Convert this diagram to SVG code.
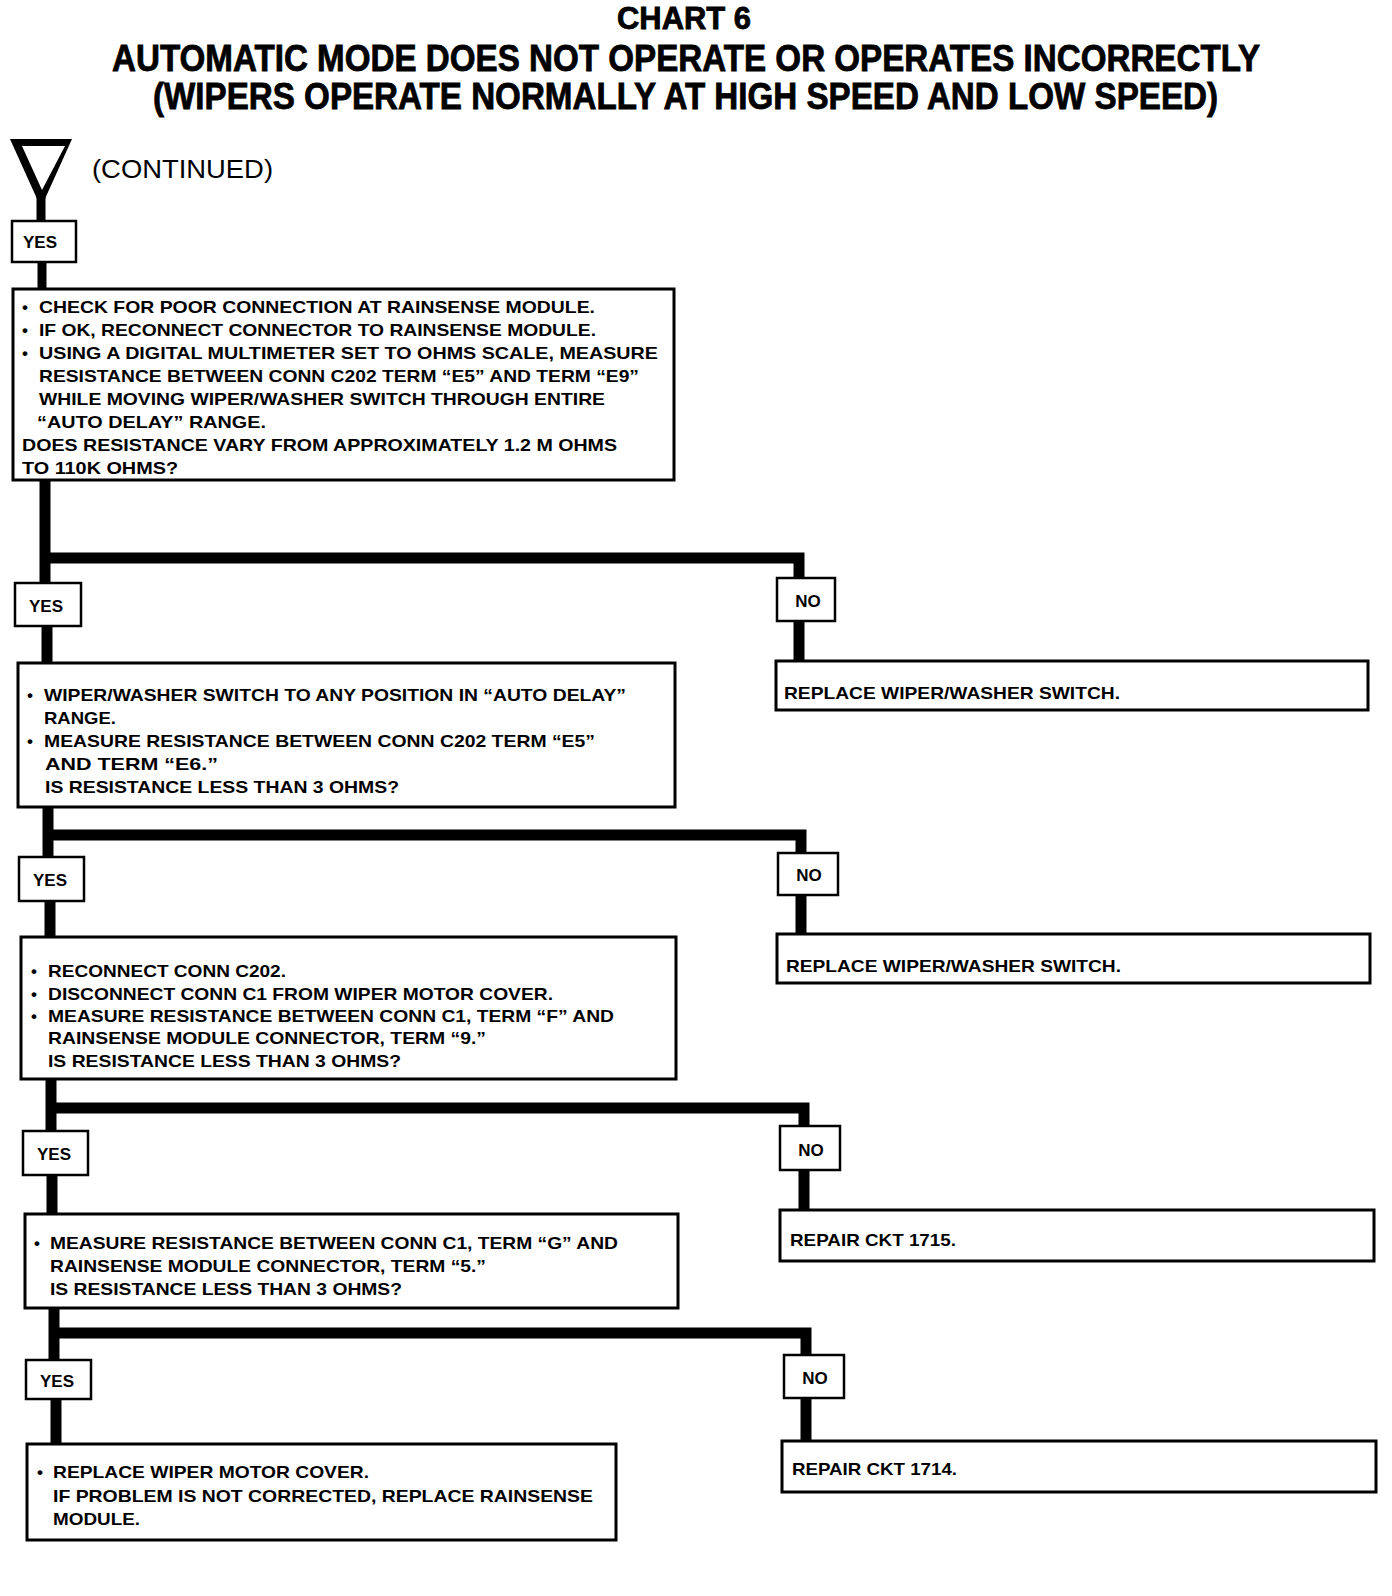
<svg xmlns="http://www.w3.org/2000/svg" width="1392" height="1596" viewBox="0 0 1392 1596">
<style>
.bg{fill:#fff}
.box{fill:#fff;stroke:#000;stroke-width:3}
.lbl{fill:#fff;stroke:#000;stroke-width:2.5}
.t{font-family:"Liberation Sans",Arial,sans-serif;font-weight:bold;font-size:17px;fill:#000}
.lt{font-family:"Liberation Sans",Arial,sans-serif;font-weight:bold;font-size:17px;fill:#000;text-anchor:middle}
.h{font-family:"Liberation Sans",Arial,sans-serif;font-weight:bold;fill:#000;stroke:#000;stroke-width:0.8}
.c{font-family:"Liberation Sans",Arial,sans-serif;font-weight:normal;fill:#000}
.w{stroke:#000;fill:none;stroke-width:11;stroke-linejoin:miter;stroke-linecap:butt}
.ws{stroke:#000;fill:none;stroke-width:9}
</style>
<rect class="bg" x="0" y="0" width="1392" height="1596"/>
<g id="title">
<text class="h" x="617" y="29" font-size="31" textLength="134" lengthAdjust="spacingAndGlyphs">CHART 6</text>
<text class="h" x="112" y="71" font-size="36" textLength="1148" lengthAdjust="spacingAndGlyphs">AUTOMATIC MODE DOES NOT OPERATE OR OPERATES INCORRECTLY</text>
<text class="h" x="153" y="109" font-size="36" textLength="1065" lengthAdjust="spacingAndGlyphs">(WIPERS OPERATE NORMALLY AT HIGH SPEED AND LOW SPEED)</text>
</g>
<g id="connectors">
<path class="ws" d="M41,196 V221"/>
<path class="ws" d="M42,262 V289"/>
<path class="w" d="M45,480 V583"/>
<path class="w" d="M45,558 H799 V578"/>
<path class="w" d="M799,621 V661"/>
<path class="w" d="M47,626 V663"/>
<path class="w" d="M48,807 V857"/>
<path class="w" d="M48,835 H801 V853"/>
<path class="w" d="M801,895 V934"/>
<path class="w" d="M50,901 V937"/>
<path class="w" d="M51,1079 V1131"/>
<path class="w" d="M51,1108 H804 V1126"/>
<path class="w" d="M804,1170 V1210"/>
<path class="w" d="M52,1175 V1213"/>
<path class="w" d="M54,1307 V1360"/>
<path class="w" d="M54,1333 H806 V1355"/>
<path class="w" d="M806,1398 V1441"/>
<path class="w" d="M56,1399 V1443"/>
</g>
<g id="continued">
<polygon points="10,139 72,139 44,201 38,201" fill="#000"/>
<polygon points="22,146 65,146 42,190" fill="#fff"/>
<text class="c" x="92" y="178" font-size="26" textLength="181" lengthAdjust="spacingAndGlyphs">(CONTINUED)</text>
</g>
<g id="yes1">
<rect class="lbl" x="12" y="221" width="64" height="41"/>
<text class="lt" x="40" y="248">YES</text>
</g>
<g id="step1">
<rect class="box" x="13" y="289" width="661" height="191"/>
<text class="t" x="22" y="313">•</text>
<text class="t" x="39" y="313" textLength="556" lengthAdjust="spacingAndGlyphs">CHECK FOR POOR CONNECTION AT RAINSENSE MODULE.</text>
<text class="t" x="22" y="336">•</text>
<text class="t" x="39" y="336" textLength="557" lengthAdjust="spacingAndGlyphs">IF OK, RECONNECT CONNECTOR TO RAINSENSE MODULE.</text>
<text class="t" x="22" y="359">•</text>
<text class="t" x="39" y="359" textLength="619" lengthAdjust="spacingAndGlyphs">USING A DIGITAL MULTIMETER SET TO OHMS SCALE, MEASURE</text>
<text class="t" x="39" y="382" textLength="600" lengthAdjust="spacingAndGlyphs">RESISTANCE BETWEEN CONN C202 TERM “E5” AND TERM “E9”</text>
<text class="t" x="39" y="405" textLength="566" lengthAdjust="spacingAndGlyphs">WHILE MOVING WIPER/WASHER SWITCH THROUGH ENTIRE</text>
<text class="t" x="37" y="428" textLength="229" lengthAdjust="spacingAndGlyphs">“AUTO DELAY” RANGE.</text>
<text class="t" x="22" y="451" textLength="595" lengthAdjust="spacingAndGlyphs">DOES RESISTANCE VARY FROM APPROXIMATELY 1.2 M OHMS</text>
<text class="t" x="22" y="474" textLength="156" lengthAdjust="spacingAndGlyphs">TO 110K OHMS?</text>
</g>
<g id="yes2">
<rect class="lbl" x="15" y="583" width="66" height="43"/>
<text class="lt" x="46" y="612">YES</text>
</g>
<g id="no1">
<rect class="lbl" x="777" y="578" width="58" height="43"/>
<text class="lt" x="808" y="607">NO</text>
</g>
<g id="fix1">
<rect class="box" x="776" y="661" width="592" height="49"/>
<text class="t" x="784" y="699" textLength="336" lengthAdjust="spacingAndGlyphs">REPLACE WIPER/WASHER SWITCH.</text>
</g>
<g id="step2">
<rect class="box" x="18" y="663" width="657" height="144"/>
<text class="t" x="27" y="701">•</text>
<text class="t" x="44" y="701" textLength="582" lengthAdjust="spacingAndGlyphs">WIPER/WASHER SWITCH TO ANY POSITION IN “AUTO DELAY”</text>
<text class="t" x="44" y="724" textLength="72" lengthAdjust="spacingAndGlyphs">RANGE.</text>
<text class="t" x="27" y="747">•</text>
<text class="t" x="44" y="747" textLength="551" lengthAdjust="spacingAndGlyphs">MEASURE RESISTANCE BETWEEN CONN C202 TERM “E5”</text>
<text class="t" x="45" y="770" textLength="173" lengthAdjust="spacingAndGlyphs">AND TERM “E6.”</text>
<text class="t" x="45" y="793" textLength="354" lengthAdjust="spacingAndGlyphs">IS RESISTANCE LESS THAN 3 OHMS?</text>
</g>
<g id="yes3">
<rect class="lbl" x="19" y="857" width="65" height="44"/>
<text class="lt" x="50" y="886">YES</text>
</g>
<g id="no2">
<rect class="lbl" x="778" y="853" width="60" height="42"/>
<text class="lt" x="809" y="881">NO</text>
</g>
<g id="fix2">
<rect class="box" x="777" y="934" width="593" height="49"/>
<text class="t" x="786" y="972" textLength="335" lengthAdjust="spacingAndGlyphs">REPLACE WIPER/WASHER SWITCH.</text>
</g>
<g id="step3">
<rect class="box" x="21" y="937" width="655" height="142"/>
<text class="t" x="31" y="977">•</text>
<text class="t" x="48" y="977" textLength="238" lengthAdjust="spacingAndGlyphs">RECONNECT CONN C202.</text>
<text class="t" x="31" y="1000">•</text>
<text class="t" x="48" y="1000" textLength="505" lengthAdjust="spacingAndGlyphs">DISCONNECT CONN C1 FROM WIPER MOTOR COVER.</text>
<text class="t" x="31" y="1022">•</text>
<text class="t" x="48" y="1022" textLength="566" lengthAdjust="spacingAndGlyphs">MEASURE RESISTANCE BETWEEN CONN C1, TERM “F” AND</text>
<text class="t" x="48" y="1044" textLength="438" lengthAdjust="spacingAndGlyphs">RAINSENSE MODULE CONNECTOR, TERM “9.”</text>
<text class="t" x="48" y="1067" textLength="353" lengthAdjust="spacingAndGlyphs">IS RESISTANCE LESS THAN 3 OHMS?</text>
</g>
<g id="yes4">
<rect class="lbl" x="23" y="1131" width="65" height="44"/>
<text class="lt" x="54" y="1160">YES</text>
</g>
<g id="no3">
<rect class="lbl" x="780" y="1126" width="60" height="44"/>
<text class="lt" x="811" y="1156">NO</text>
</g>
<g id="fix3">
<rect class="box" x="780" y="1210" width="594" height="51"/>
<text class="t" x="790" y="1246" textLength="166" lengthAdjust="spacingAndGlyphs">REPAIR CKT 1715.</text>
</g>
<g id="step4">
<rect class="box" x="25" y="1214" width="653" height="94"/>
<text class="t" x="34" y="1249">•</text>
<text class="t" x="50" y="1249" textLength="568" lengthAdjust="spacingAndGlyphs">MEASURE RESISTANCE BETWEEN CONN C1, TERM “G” AND</text>
<text class="t" x="50" y="1272" textLength="436" lengthAdjust="spacingAndGlyphs">RAINSENSE MODULE CONNECTOR, TERM “5.”</text>
<text class="t" x="50" y="1295" textLength="352" lengthAdjust="spacingAndGlyphs">IS RESISTANCE LESS THAN 3 OHMS?</text>
</g>
<g id="yes5">
<rect class="lbl" x="26" y="1360" width="65" height="39"/>
<text class="lt" x="57" y="1387">YES</text>
</g>
<g id="no4">
<rect class="lbl" x="784" y="1355" width="60" height="43"/>
<text class="lt" x="815" y="1384">NO</text>
</g>
<g id="fix4">
<rect class="box" x="782" y="1441" width="594" height="51"/>
<text class="t" x="792" y="1475" textLength="165" lengthAdjust="spacingAndGlyphs">REPAIR CKT 1714.</text>
</g>
<g id="step5">
<rect class="box" x="27" y="1444" width="589" height="96"/>
<text class="t" x="37" y="1478">•</text>
<text class="t" x="53" y="1478" textLength="316" lengthAdjust="spacingAndGlyphs">REPLACE WIPER MOTOR COVER.</text>
<text class="t" x="53" y="1502" textLength="540" lengthAdjust="spacingAndGlyphs">IF PROBLEM IS NOT CORRECTED, REPLACE RAINSENSE</text>
<text class="t" x="53" y="1525" textLength="87" lengthAdjust="spacingAndGlyphs">MODULE.</text>
</g>
</svg>
